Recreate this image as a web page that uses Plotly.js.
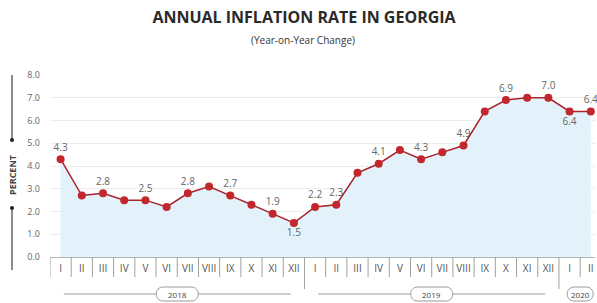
<!DOCTYPE html>
<html><head><meta charset="utf-8">
<script src="https://cdn.plot.ly/plotly-3.0.1.min.js"></script>
<style>html,body{margin:0;padding:0;background:#fff;}#chart{width:597px;height:303px;}</style>
</head><body><div id="chart"></div>
<script>
const months = ['I','II','III','IV','V','VI','VII','VIII','IX','X','XI','XII',
                'I','II','III','IV','V','VI','VII','VIII','IX','X','XI','XII',
                'I','II'];
const years = ['2018','2018','2018','2018','2018','2018','2018','2018','2018','2018','2018','2018',
               '2019','2019','2019','2019','2019','2019','2019','2019','2019','2019','2019','2019',
               '2020','2020'];
const inflation = [4.3,2.7,2.8,2.5,2.5,2.2,2.8,3.1,2.7,2.3,1.9,1.5,
                   2.2,2.3,3.7,4.1,4.7,4.3,4.6,4.9,6.4,6.9,7.0,7.0,
                   6.4,6.4];
const pointLabels = ['4.3','','2.8','','2.5','','2.8','','2.7','','1.9','1.5',
                     '2.2','2.3','','4.1','','4.3','','4.9','','6.9','','7.0',
                     '6.4','6.4'];
const labelBelow = [11, 24];
const yTicks = [0,1,2,3,4,5,6,7,8];

const xIdx = months.map((_, i) => i);
const textPos = xIdx.map(i => labelBelow.includes(i) ? 'bottom center' : 'top center');

const PLOT_H = 182; // px height of plot area
const px = v => v / PLOT_H;

const traces = [
  {x: xIdx, y: inflation, type: 'scatter', mode: 'lines', fill: 'tozeroy',
   fillcolor: '#e3f1fa', line: {color: 'rgba(0,0,0,0)', width: 0}, hoverinfo: 'skip'},
  {x: xIdx, y: inflation, type: 'scatter', mode: 'lines+markers+text',
   line: {color: '#a8232b', width: 1.5},
   marker: {color: '#c1272d', size: 8},
   text: pointLabels, textposition: textPos, cliponaxis: false,
   textfont: {family: 'Open Sans, sans-serif', size: 10, color: '#666'}}
];

const shapes = [];
const annotations = [];
// separators between month cells
for (let i = 0; i <= months.length; i++) {
  const isYearBoundary = i > 0 && i < months.length && years[i] !== years[i-1];
  shapes.push({type: 'line', xref: 'x', yref: 'paper', x0: i - 0.5, x1: i - 0.5,
    y0: 0, y1: isYearBoundary ? -px(32) : -px(20), line: {color: '#a0a0a0', width: 1}, layer: 'above'});
}
// year groups
const yearNames = [...new Set(years)];
const yearRowY = -px(37);
yearNames.forEach(yr => {
  const first = years.indexOf(yr), last = years.lastIndexOf(yr);
  const center = (first + last) / 2;
  const n = last - first + 1;
  if (n > 2) {
    shapes.push({type: 'line', xref: 'x', yref: 'paper', x0: first + 0.15, x1: last - 0.15,
      y0: yearRowY, y1: yearRowY, line: {color: '#9a9a9a', width: 1}});
  }
  const w = n > 2 ? 21 : 13, h = 7;
  const path = `M ${-w + h} ${-h} L ${w - h} ${-h} C ${w + h*0.33} ${-h} ${w + h*0.33} ${h} ${w - h} ${h} ` +
               `L ${-w + h} ${h} C ${-w - h*0.33} ${h} ${-w - h*0.33} ${-h} ${-w + h} ${-h} Z`;
  shapes.push({type: 'path', xref: 'x', yref: 'paper', xsizemode: 'pixel', ysizemode: 'pixel',
    xanchor: center, yanchor: yearRowY, path: path,
    fillcolor: '#ffffff', line: {color: '#9a9a9a', width: 1}});
  annotations.push({xref: 'x', yref: 'paper', x: center, y: yearRowY, text: yr, showarrow: false,
    font: {family: 'Open Sans, sans-serif', size: 8, color: '#444'}, xanchor: 'center', yanchor: 'middle'});
});
// y axis title decoration
const titleX = -38 / 545;
shapes.push({type: 'line', xref: 'paper', yref: 'paper', x0: titleX, x1: titleX, y0: px(182), y1: px(117), line: {color: '#666', width: 1.5}});
shapes.push({type: 'line', xref: 'paper', yref: 'paper', x0: titleX, x1: titleX, y0: px(49), y1: -px(13), line: {color: '#666', width: 1.5}});
[px(117), px(49)].forEach(yy => shapes.push({type: 'circle', xref: 'paper', yref: 'paper', xsizemode: 'pixel', ysizemode: 'pixel',
  xanchor: titleX, yanchor: yy, x0: -2, x1: 2, y0: -2, y1: 2, fillcolor: '#222', line: {width: 0}}));
annotations.push({xref: 'paper', yref: 'paper', x: titleX, y: px(82), text: 'PERCENT', textangle: -90, showarrow: false,
  font: {family: 'Open Sans, sans-serif', size: 9, color: '#444', weight: 700}, xanchor: 'center', yanchor: 'middle'});
annotations.push({xref: 'paper', yref: 'paper', x: 0.465, y: 1 + px(35), text: '(Year-on-Year Change)', showarrow: false,
  font: {family: 'Open Sans, sans-serif', size: 10, color: '#333'}, xanchor: 'center', yanchor: 'middle'});

const layout = {
  width: 597, height: 303,
  margin: {l: 50, r: 2, t: 75, b: 46},
  paper_bgcolor: '#fff', plot_bgcolor: '#fff',
  showlegend: false,
  title: {text: '<b>ANNUAL INFLATION RATE IN GEORGIA</b>', x: 304/597, xanchor: 'center', xref: 'container',
          y: 1 - 17/303, yanchor: 'middle', yref: 'container',
          font: {family: 'Open Sans, sans-serif', size: 16, color: '#2a2a2a'}},
  xaxis: {range: [-0.5, 25.2], tickmode: 'array', tickvals: xIdx, ticktext: months,
          showgrid: false, zeroline: false, showline: false, ticks: '', ticklabelstandoff: 4,
          tickfont: {family: 'Open Sans, sans-serif', size: 10, color: '#555'}},
  yaxis: {range: [0, 8], tickmode: 'array', tickvals: yTicks, ticktext: yTicks.map(v => v.toFixed(1)),
          showgrid: true, gridcolor: '#ececec', gridwidth: 1, zeroline: true, zerolinecolor: '#b5b5b5',
          showline: false, ticks: '', ticklabelstandoff: 9,
          tickfont: {family: 'Open Sans, sans-serif', size: 9, color: '#666'}},
  shapes: shapes, annotations: annotations
};
Plotly.newPlot('chart', traces, layout, {displayModeBar: false, staticPlot: true});
</script></body></html>
